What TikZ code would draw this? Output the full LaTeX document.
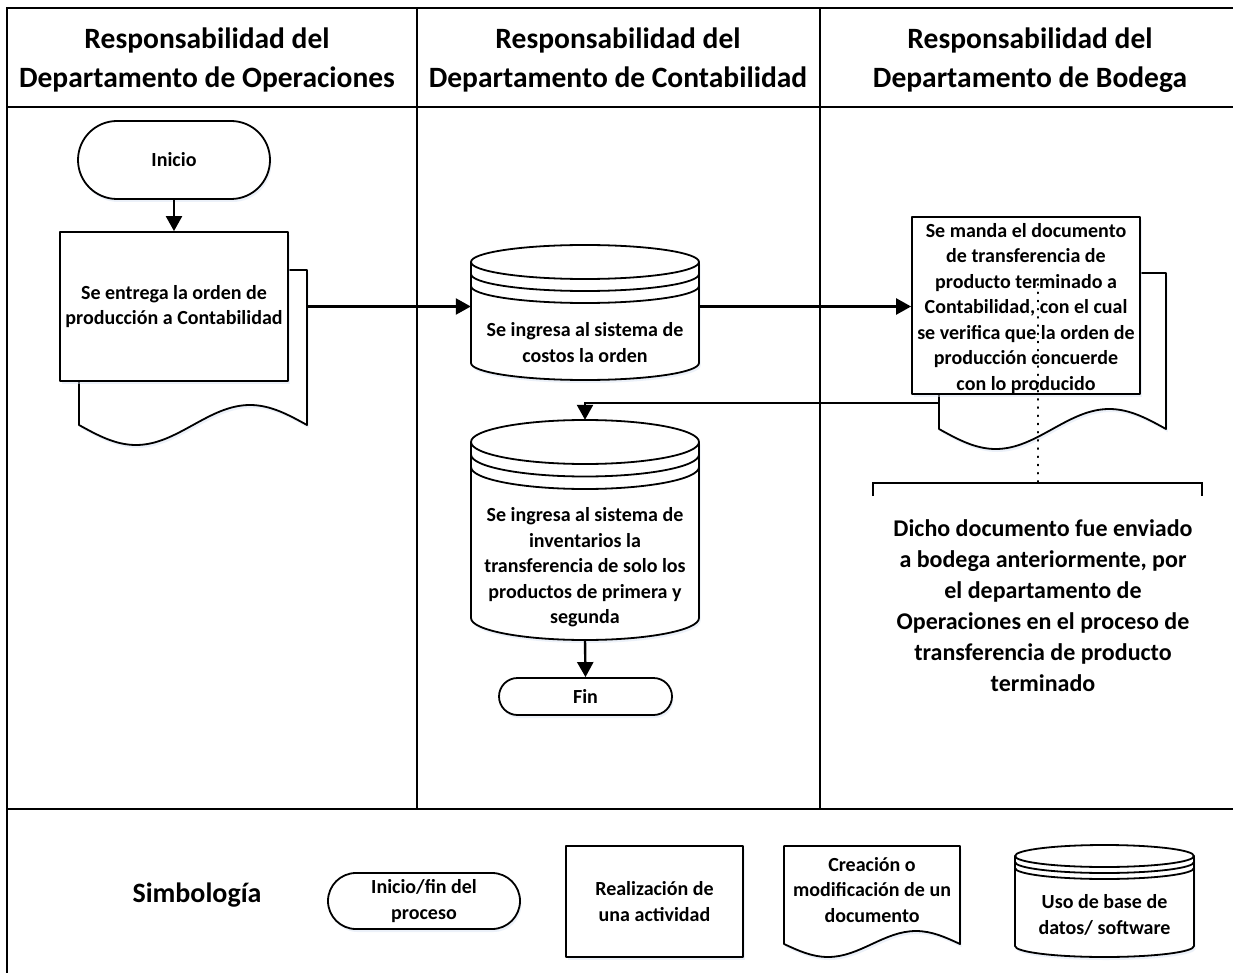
\documentclass[tikz,border=0pt]{standalone}
\usepackage{fontspec}
\setmainfont{Carlito}
\usetikzlibrary{arrows.meta,calc,shapes.misc,shadows}

\definecolor{shadowblue}{RGB}{218,229,245}

% document symbol: rectangle with a wavy lower edge (L, R, top, base line, wave amplitude)
\newcommand\docshape[5]{%
  \pgfmathsetmacro\docqw{(#2-#1)/4}%
  \draw[shp,shadowed] (#1,#4) -- (#1,#3) -- (#2,#3) -- (#2,#4)
    sin ({#2-\docqw},{#4-#5}) cos ({#2-2*\docqw},{#4})
    sin ({#1+\docqw},{#4+#5}) cos ({#1},{#4}) -- cycle;}

% database symbol: cylinder with three bands (L, R, top, bottom, ellipse half height, band gap)
\newcommand\dbshape[6]{%
  \pgfmathsetmacro\dbcx{(#1+#2)/2}%
  \pgfmathsetmacro\dbkx{0.5523*(#2-#1)/2}%
  \pgfmathsetmacro\dbky{0.5523*#5}%
  \pgfmathsetmacro\dbts{#3+#5}%
  \pgfmathsetmacro\dbbs{#4-#5}%
  \draw[shp,shadowed] (#1,\dbts) .. controls ({#1},{\dbts-\dbky}) and ({\dbcx-\dbkx},{#3}) .. (\dbcx,#3)
    .. controls ({\dbcx+\dbkx},{#3}) and ({#2},{\dbts-\dbky}) .. (#2,\dbts)
    -- (#2,\dbbs) .. controls ({#2},{\dbbs+\dbky}) and ({\dbcx+\dbkx},{#4}) .. (\dbcx,#4)
    .. controls ({\dbcx-\dbkx},{#4}) and ({#1},{\dbbs+\dbky}) .. (#1,\dbbs) -- cycle;
  \foreach \dbi in {0,1,2}{%
    \pgfmathsetmacro\dbband{\dbts+\dbi*#6}%
    \draw[shpline] (#1,\dbband) .. controls ({#1},{\dbband+\dbky}) and ({\dbcx-\dbkx},{\dbband+#5}) .. (\dbcx,{\dbband+#5})
      .. controls ({\dbcx+\dbkx},{\dbband+#5}) and ({#2},{\dbband+\dbky}) .. (#2,\dbband);}}

\tikzset{
  frame/.style={line width=2pt, line cap=rect},
  shp/.style={line width=1.8pt, draw=black, fill=white, line join=round},
  shpline/.style={line width=1.8pt, draw=black},
  shadowed/.style={drop shadow={shadow xshift=1.5pt, shadow yshift=-3pt, fill=shadowblue, draw=none}},
  hdr/.style={font=\fontsize{29.5}{39.5}\selectfont\bfseries, align=center, inner sep=0pt},
  txt/.style={font=\fontsize{20}{25.5}\selectfont\bfseries, align=center, inner sep=0pt},
  note/.style={font=\fontsize{24}{31}\selectfont\bfseries, align=center, inner sep=0pt},
  terminal/.style={rounded rectangle, draw, shp, shadowed, inner sep=0pt, align=center,
    font=\fontsize{20}{25.5}\selectfont\bfseries},
  activity/.style={rectangle, draw, shp, shadowed, inner sep=0pt, align=center,
    font=\fontsize{20}{25.5}\selectfont\bfseries},
  area/.style={rectangle, draw=none, inner sep=0pt},
  flow/.style={line width=2.4pt, -{Triangle[length=15pt,width=16pt]}},
  link/.style={line width=1.4pt, dash pattern=on 1.2pt off 7pt, line cap=round},
}

\begin{document}
\begin{tikzpicture}[x=1pt,y=-1pt]
\useasboundingbox (0,0) rectangle (1233,973);
\fill[white] (0,0) rectangle (1233,973);

% swimlane frame
\draw[frame] (7,990) -- (7,8) -- (1245,8);
\draw[frame] (7,107) -- (1245,107);
\draw[frame] (417,8) -- (417,809);
\draw[frame] (820,8) -- (820,809);
\draw[frame] (7,809) -- (1245,809);

% lane headers
\node[hdr] (h1) at (207,60) {Responsabilidad del\\Departamento de Operaciones};
\node[hdr] (h2) at (618,60) {Responsabilidad del\\Departamento de Contabilidad};
\node[hdr] (h3) at (1030,60) {Responsabilidad del\\Departamento de Bodega};

% Operaciones
\node[terminal, minimum width=192pt, minimum height=78pt] (ini) at (174,160) {Inicio};
\node[area, minimum width=228pt, minimum height=175pt] (d1) at (193,357.5) {};
\docshape{79}{307}{270}{425}{20}
\node[activity, minimum width=228pt, minimum height=149pt] (r1) at (174,306.5)
  {Se entrega la orden de\\producción a Contabilidad};

% Contabilidad
\node[area, minimum width=228pt, minimum height=135pt] (c1) at (585,312.5) {};
\dbshape{471}{699}{245}{380}{17}{12}
\node[txt] (c1t) at (585,342.5) {Se ingresa al sistema de\\costos la orden};

\node[area, minimum width=228pt, minimum height=220pt] (c2) at (585,530) {};
\dbshape{471}{699}{420}{640}{22}{12.5}
\node[txt] (c2t) at (585,567.5) {Se ingresa al sistema de\\inventarios la\\transferencia de solo los\\productos de primera y\\segunda};

\node[terminal, minimum width=173pt, minimum height=37pt] (fin) at (585.5,696.5) {Fin};

% Bodega
\node[area, minimum width=227pt, minimum height=175pt] (d3) at (1052.5,360.5) {};
\docshape{939}{1166}{273}{429}{20}
\node[activity, minimum width=228pt, minimum height=177pt] (r3) at (1026,305.5) {};
\node[txt] (r3t) at (1026,308.5) {Se manda el documento\\de transferencia de\\producto terminado a\\Contabilidad, con el cual\\se verifica que la orden de\\producción concuerde\\con lo producido};

% annotation
\coordinate (nstart) at (1038,284);
\coordinate (brk) at (1038,483);
\draw[shpline] (873,496) -- (873,483) -- (1202,483) -- (1202,496);
\node[note] (nt) at (1043,605.5) {Dicho documento fue enviado\\a bodega anteriormente, por\\el departamento de\\Operaciones en el proceso de\\transferencia de producto\\terminado};
\draw[link] (nstart) -- (brk);

% connectors
\draw[flow] (ini.south) -- (r1.north);
\draw[flow] (r1.east -| d1.east) -- (r1.east -| c1.west);
\draw[flow] (r1.east -| c1.east) -- (r1.east -| r3.west);
\draw[flow] ([yshift=-42.5pt]d3.west) -| (c2.north);
\draw[flow] (c2.south) -- (fin.north);

% legend
\node[font=\fontsize{28}{34}\selectfont\bfseries, inner sep=0pt] (sim) at (197,895) {Simbología};
\node[terminal, minimum width=192pt, minimum height=56pt] (lg1) at (424,901) {Inicio/fin del\\proceso};
\node[activity, minimum width=177pt, minimum height=111pt] (lg2) at (654.5,901.5) {Realización de\\una actividad};
\node[area, minimum width=176pt, minimum height=111pt] (lg3) at (872,901.5) {};
\docshape{784}{960}{846}{944}{13}
\node[txt] (lg3t) at (872,890) {Creación o\\modificación de un\\documento};
\node[area, minimum width=179pt, minimum height=112pt] (lg4) at (1104.5,901) {};
\dbshape{1015}{1194}{845}{957}{11}{6}
\node[txt] (lg4t) at (1104.5,915) {Uso de base de\\datos/ software};
\end{tikzpicture}
\end{document}
